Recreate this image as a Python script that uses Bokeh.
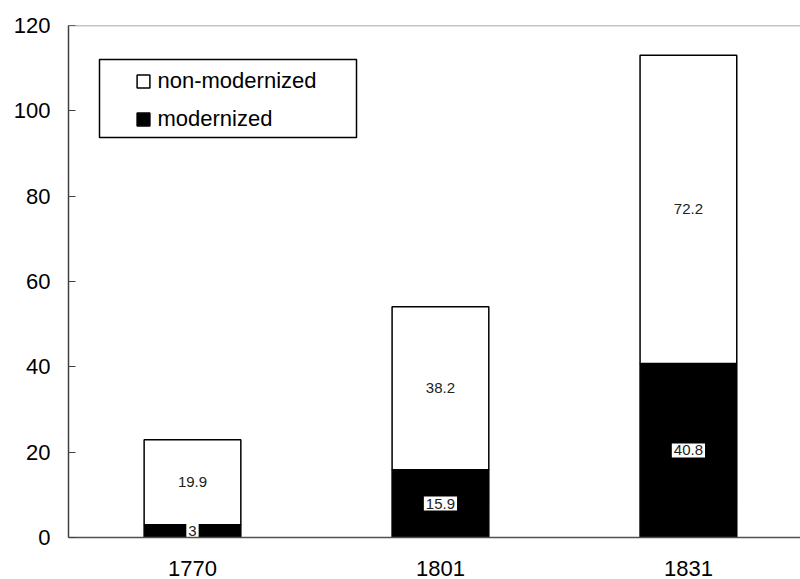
from bokeh.plotting import figure
from bokeh.models import (ColumnDataSource, Range1d, Legend, LegendItem,
                          Span, BoxAnnotation, FixedTicker)
from bokeh.core.properties import value
from bokeh.embed import file_html
from bokeh.resources import INLINE

years = ["1770", "1801", "1831"]
modernized = [3, 15.9, 40.8]
non_modernized = [19.9, 38.2, 72.2]
y_ticks = [0, 20, 40, 60, 80, 100, 120]

FONT = "Liberation Sans"
xpos = [i + 0.5 for i in range(len(years))]
totals = [m + n for m, n in zip(modernized, non_modernized)]
src = ColumnDataSource(dict(
    x=xpos,
    mod=modernized,
    non=non_modernized,
    total=totals,
    mod_mid=[m / 2 for m in modernized],
    non_mid=[m + n / 2 for m, n in zip(modernized, non_modernized)],
    mod_lbl=[f"{v:g}" for v in modernized],
    non_lbl=[f"{v:g}" for v in non_modernized],
))

p = figure(width=800, height=579, output_backend="svg", toolbar_location=None,
           x_range=Range1d(0, 2.952), y_range=Range1d(0, 120),
           min_border_left=68, min_border_right=0, min_border_top=25, min_border_bottom=42)
p.outline_line_color = None
p.xgrid.visible = False
p.ygrid.visible = False

bw = 0.39
r_mod = p.vbar(x="x", bottom=0, top="mod", width=bw, source=src,
               fill_color="black", line_color="black", line_width=1.5)
r_non = p.vbar(x="x", bottom="mod", top="total", width=bw, source=src,
               fill_color="white", line_color="black", line_width=1.5)

p.text(x="x", y="non_mid", text="non_lbl", source=src,
       text_align="center", text_baseline="middle",
       text_font=value(FONT), text_font_size="15px", text_color="#222222")
p.text(x="x", y="mod_mid", text="mod_lbl", source=src,
       text_align="center", text_baseline="middle",
       text_font=value(FONT), text_font_size="15px", text_color="#222222",
       background_fill_color="white", padding=2)

p.add_layout(Span(location=120, dimension="width", line_color="#8a8a8a", line_width=1.5))

# y axis
ya = p.yaxis[0]
ya.ticker = FixedTicker(ticks=y_ticks)
ya.major_tick_in = 7
ya.major_tick_out = 0
ya.minor_tick_line_color = None
ya.axis_line_color = "#404040"
ya.axis_line_width = 1.5
ya.major_tick_line_color = "#404040"
ya.major_label_text_font = FONT
ya.major_label_text_font_size = "22px"
ya.major_label_text_color = "black"
ya.major_label_standoff = 18

# x axis
xa = p.xaxis[0]
xa.ticker = FixedTicker(ticks=xpos)
xa.major_label_overrides = {x: y for x, y in zip(xpos, years)}
xa.major_tick_in = 0
xa.major_tick_out = 0
xa.minor_tick_line_color = None
xa.axis_line_color = "#505050"
xa.axis_line_width = 1.5
xa.major_label_text_font = FONT
xa.major_label_text_font_size = "22px"
xa.major_label_text_color = "black"
xa.major_label_standoff = 23

# legend box
p.add_layout(BoxAnnotation(left=31, right=288, top=478, bottom=400,
                           left_units="screen", right_units="screen",
                           top_units="screen", bottom_units="screen",
                           fill_alpha=0, line_color="black", line_alpha=1, line_width=1.5))

legend = Legend(items=[LegendItem(label="non-modernized", renderers=[r_non]),
                       LegendItem(label="modernized", renderers=[r_mod])],
                location=(66.5, 405), padding=0, margin=0, spacing=12,
                glyph_width=16, glyph_height=16, label_height=16, label_standoff=7,
                label_text_font=FONT, label_text_font_size="22px", label_text_color="black",
                border_line_color=None, background_fill_alpha=0)
p.add_layout(legend)

open("out.html", "w").write(file_html(p, INLINE))
